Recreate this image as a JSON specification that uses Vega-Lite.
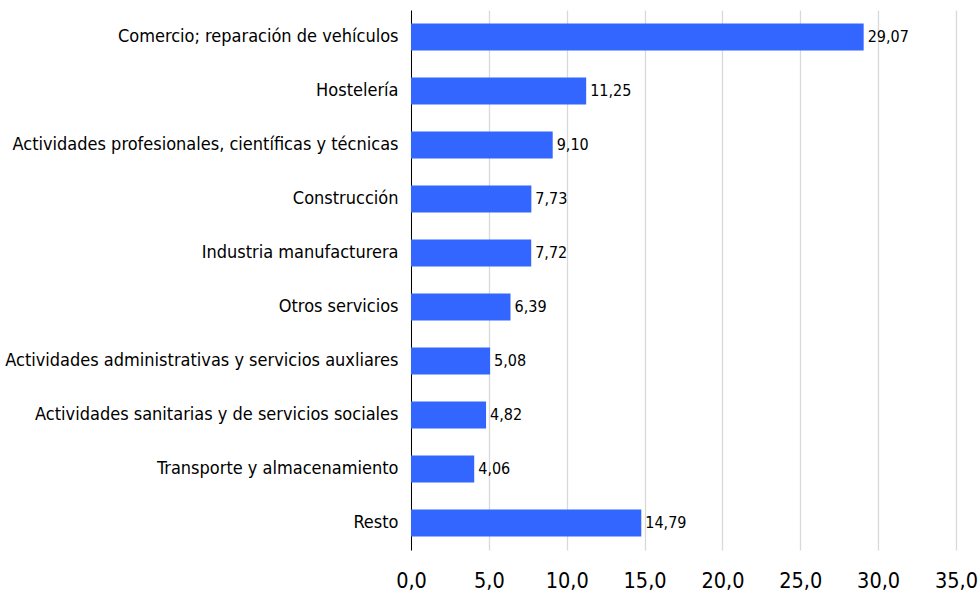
{
  "$schema": "https://vega.github.io/schema/vega-lite/v6.json",
  "autosize": "none",
  "width": 545,
  "height": 540,
  "padding": {"left": 411, "top": 10, "right": 24, "bottom": 45},
  "background": "white",
  "config": {
    "locale": {"number": {"decimal": ",", "thousands": ".", "grouping": [3], "currency": ["", " €"]}},
    "view": {"stroke": null},
    "font": "DejaVu Sans Condensed"
  },
  "data": {
    "values": [
      {"sector": "Comercio; reparación de vehículos", "valor": 29.07},
      {"sector": "Hostelería", "valor": 11.25},
      {"sector": "Actividades profesionales, científicas y técnicas", "valor": 9.10},
      {"sector": "Construcción", "valor": 7.73},
      {"sector": "Industria manufacturera", "valor": 7.72},
      {"sector": "Otros servicios", "valor": 6.39},
      {"sector": "Actividades administrativas y servicios auxliares", "valor": 5.08},
      {"sector": "Actividades sanitarias y de servicios sociales", "valor": 4.82},
      {"sector": "Transporte y almacenamiento", "valor": 4.06},
      {"sector": "Resto", "valor": 14.79}
    ]
  },
  "encoding": {
    "y": {
      "field": "sector", "type": "nominal", "sort": null,
      "scale": {"paddingInner": 0.5, "paddingOuter": 0.25},
      "axis": {"title": null, "domain": true, "domainColor": "#000000", "domainWidth": 1, "ticks": false,
               "labelFontSize": 18, "labelColor": "#000000", "labelPadding": 13, "labelLimit": 420, "grid": false}
    },
    "x": {
      "field": "valor", "type": "quantitative",
      "scale": {"domain": [0, 35], "nice": false},
      "axis": {"title": null, "values": [0, 5, 10, 15, 20, 25, 30, 35], "format": ".1f", "domain": false, "ticks": false,
               "labelFlush": false, "labelAlign": "center",
               "labelFontSize": 21.5, "labelColor": "#000000", "labelPadding": 20, "grid": true, "gridColor": "#d9d9d9", "gridWidth": 1.3}
    }
  },
  "layer": [
    {"mark": {"type": "bar", "color": "#3366FF"}},
    {"mark": {"type": "text", "align": "left", "baseline": "middle", "dx": 4, "fontSize": 16, "color": "#000000"},
     "encoding": {"text": {"field": "valor", "type": "quantitative", "format": ".2f"}}}
  ]
}
